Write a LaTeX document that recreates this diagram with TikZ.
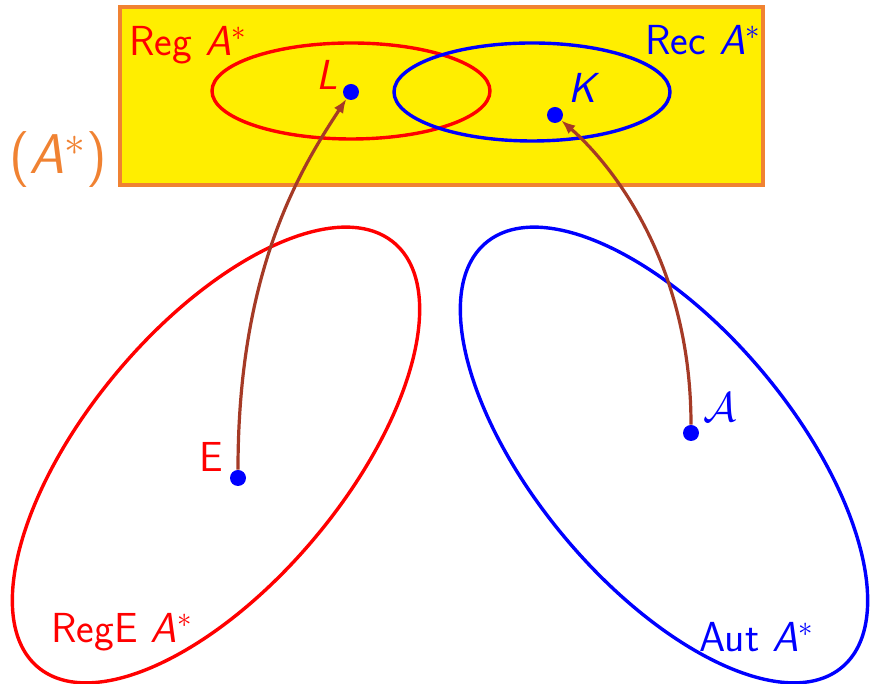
\documentclass[tikz,border=0pt]{standalone}
\usetikzlibrary{arrows.meta}
\definecolor{boxyellow}{RGB}{255,238,0}
\definecolor{boxorange}{RGB}{240,130,50}
\definecolor{arrowbrown}{RGB}{165,58,38}
\newcommand{\Astar}{\textsl{A}$^{*}$}
\tikzset{
  dot/.style={circle,fill=blue,inner sep=0pt,minimum size=8pt},
  lbl/.style={font=\sffamily\fontsize{21}{25}\selectfont,inner sep=0pt},
  setline/.style={line width=1.7pt},
  morph/.style={arrowbrown,line width=1.6pt,-{Latex[length=7pt,width=5.5pt]}}
}
\begin{document}
\begin{tikzpicture}[x=0.5pt,y=0.5pt]
        \useasboundingbox (0,0) rectangle (875,684);
        % the box of all languages
        \draw[boxorange,line width=2.2pt,fill=boxyellow] (120,499) rectangle (763,677);
        \node[lbl,boxorange,font=\sffamily\fontsize{28}{32}\selectfont] (all) at (58,524) {(\Astar)};

        \draw[red,setline] (351,593) ellipse [x radius=139,y radius=48];
        \draw[blue,setline] (532,592) ellipse [x radius=138,y radius=49];
        \node[lbl,red] (reg) at (188,639) {Reg \Astar};
        \node[lbl,blue] (rec) at (703,644) {Rec \Astar};

        \node[dot] (L) at (351,592) {};
        \node[dot] (K) at (555,569) {};
        \node[lbl,red] at (327,609) {\textsl{L}};
        \node[lbl,blue] at (584,596) {\textsl{K}};

        % expressions and automata
        \draw[red,setline,rotate around={50:(216,229)}] (216,229) ellipse [x radius=277,y radius=129];
        \draw[blue,setline,rotate around={-50:(664,229)}] (664,229) ellipse [x radius=277,y radius=129];
        \node[lbl,red] (rege) at (122,52) {RegE \Astar};
        \node[lbl,blue] (aut) at (757,47) {Aut \Astar};

        \node[dot] (E) at (238,206) {};
        \node[dot] (aut1) at (691,251) {};
        \node[lbl,red] at (211,227) {E};
        \node[lbl,blue] at (720,277) {$\mathcal{A}$};

        \draw[morph] (E) .. controls +(0,206) and +(-52,-79) .. (L);
        \draw[morph] (aut1) .. controls +(0,174) and +(53,-46) .. (K);
    \end{tikzpicture}
\end{document}
